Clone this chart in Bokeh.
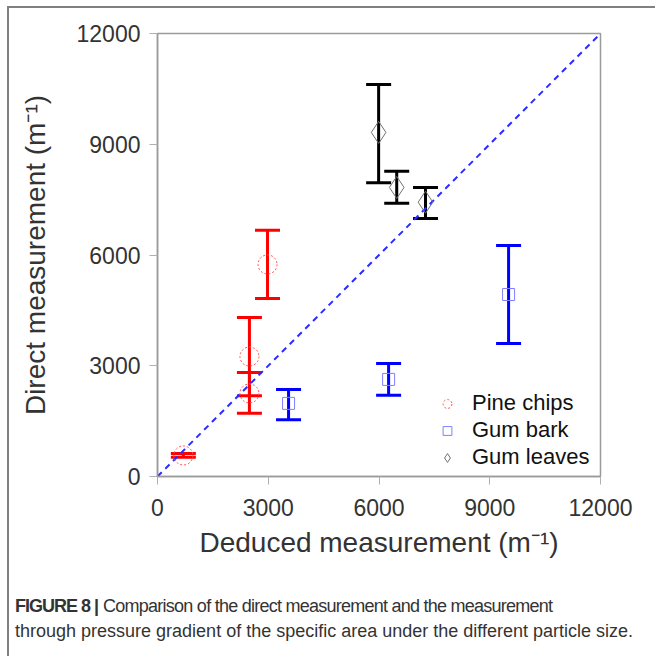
from bokeh.plotting import figure
from bokeh.layouts import column
from bokeh.models import (ColumnDataSource, Whisker, TeeHead, Legend, LegendItem,
                          Div, FixedTicker)
from bokeh.embed import file_html
from bokeh.resources import INLINE

# ---- data ----
pine_x = [700, 2490, 2490, 2980]
pine_y = [570, 2250, 3250, 5745]
pine_lo = [520, 1710, 2190, 4820]
pine_hi = [620, 2820, 4310, 6670]

bark_x = [3550, 6260, 9510]
bark_y = [1980, 2630, 4930]
bark_lo = [1540, 2200, 3600]
bark_hi = [2360, 3060, 6260]

leaf_x = [5990, 6480, 7260]
leaf_y = [9320, 7830, 7430]
leaf_lo = [7960, 7400, 6990]
leaf_hi = [10620, 8270, 7830]

diag = [0, 12000]
ticks = [0, 3000, 6000, 9000, 12000]

caption_bold = "FIGURE 8 |"
caption_1 = "Comparison of the direct measurement and the measurement"
caption_2 = "through pressure gradient of the specific area under the different particle size."

FONT = "Liberation Sans"

p = figure(width=646, height=560, output_backend="svg", toolbar_location=None,
           x_range=(0, 12000), y_range=(0, 12000),
           min_border_left=148, min_border_right=55, min_border_top=25,
           min_border_bottom=92)
p.grid.visible = False
p.outline_line_color = "#9a9a9a"
p.outline_line_width = 1.5

for ax in (p.xaxis[0], p.yaxis[0]):
    ax.ticker = FixedTicker(ticks=ticks)
    ax.minor_tick_line_color = None
    ax.major_tick_in = 0
    ax.major_tick_out = 8
    ax.major_tick_line_color = "#b0b0b0"
    ax.axis_line_color = "#9a9a9a"
    ax.axis_line_width = 1.5
    ax.major_label_text_font = FONT
    ax.major_label_text_font_size = "23px"
    ax.major_label_text_color = "#333333"
    ax.axis_label_text_font = FONT
    ax.axis_label_text_font_size = "28px"
    ax.axis_label_text_font_style = "normal"
    ax.axis_label_text_color = "#333333"

p.xaxis.major_label_standoff = 14
p.yaxis.major_label_standoff = 9
p.xaxis.axis_label = "Deduced measurement (m\u207b\u00b9)"
p.yaxis.axis_label = "Direct measurement (m\u207b\u00b9)"
p.xaxis.axis_label_standoff = 8
p.yaxis.axis_label_standoff = 23

# diagonal
p.line(diag, diag, line_color="#2b2bff", line_width=2, line_dash="6 5")

def bars(x, lo, hi, color):
    src = ColumnDataSource(dict(base=x, lower=lo, upper=hi))
    w = Whisker(base="base", lower="lower", upper="upper", source=src,
                dimension="height", line_color=color, line_width=3,
                upper_head=TeeHead(size=25, line_color=color, line_width=3),
                lower_head=TeeHead(size=25, line_color=color, line_width=3))
    p.add_layout(w)

bars(pine_x, pine_lo, pine_hi, "#ff0000")
bars(bark_x, bark_lo, bark_hi, "#0000ff")
bars(leaf_x, leaf_lo, leaf_hi, "#000000")

r_pine = p.scatter(pine_x, pine_y, marker="circle", size=19, fill_color=None,
                   line_color="#ff5050", line_width=1, line_dash="2 2")
r_bark = p.scatter(bark_x, bark_y, marker="square", size=12, fill_color=None,
                   line_color="#8080ff", line_width=1)
r_leaf = p.scatter(leaf_x, leaf_y, marker="diamond", size=22, fill_color=None,
                   line_color="#707070", line_width=1)

legend = Legend(items=[LegendItem(label="Pine chips", renderers=[r_pine]),
                       LegendItem(label="Gum bark", renderers=[r_bark]),
                       LegendItem(label="Gum leaves", renderers=[r_leaf])],
                location=(279, 6), border_line_color=None,
                background_fill_alpha=0, label_text_font=FONT,
                label_text_font_size="22px", label_text_color="#111111",
                glyph_width=22, glyph_height=25, label_height=25, spacing=1,
                label_standoff=14, padding=4, margin=0)
p.add_layout(legend)

# caption
cap = Div(text=("<span style='letter-spacing:-1px'><b>" + caption_bold + "</b></span> "
                "<span style='letter-spacing:-0.75px'>" + caption_1 + "</span><br>"
                + caption_2),
          width=646, height=88,
          styles={"font-family": FONT, "font-size": "18px", "color": "#333333",
                  "line-height": "25px", "padding-top": "21px",
                  "padding-left": "1px", "box-sizing": "border-box",
                  "white-space": "nowrap"})

layout = column(p, cap, spacing=0,
                styles={"border-left": "2px solid #808080",
                        "border-top": "2px solid #808080",
                        "margin-left": "7px", "margin-top": "6px"})

open("out.html", "w").write(file_html(layout, INLINE))
